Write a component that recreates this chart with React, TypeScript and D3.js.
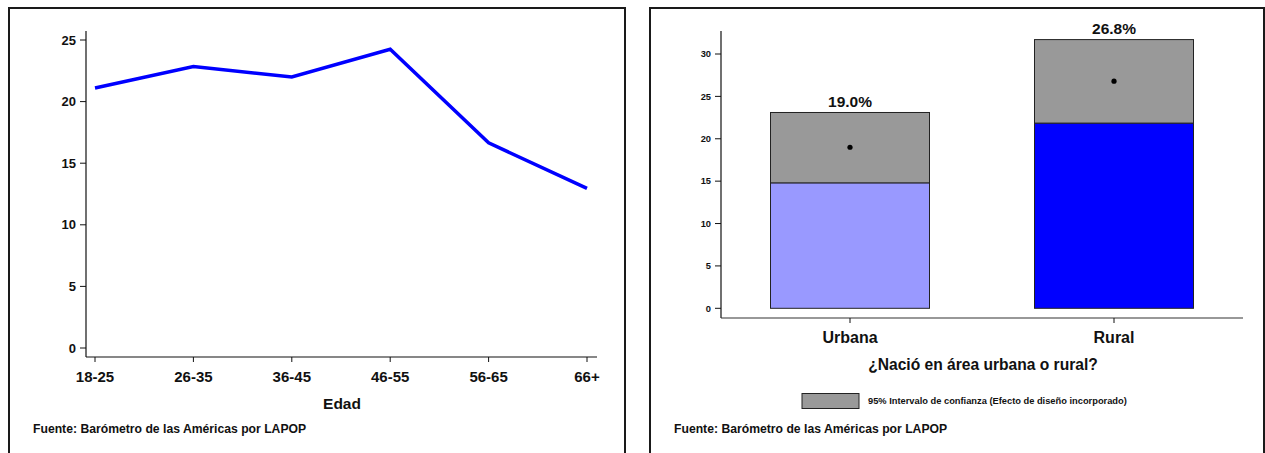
import React from "react";
import * as d3 from "d3";

const ageGroups = ["18-25", "26-35", "36-45", "46-55", "56-65", "66+"];
const ageValues = [21.1, 22.85, 22.0, 24.25, 16.65, 12.95];
const leftYTicks = [0, 5, 10, 15, 20, 25];

const areaCategories = ["Urbana", "Rural"];
const areaMeans = [19.0, 26.8];
const areaLower = [14.8, 21.85];
const areaUpper = [23.1, 31.7];
const areaColors = ["#9999ff", "#0000ff"];
const rightYTicks = [0, 5, 10, 15, 20, 25, 30];

const FONT = "'Liberation Sans', Arial, sans-serif";

export default function App() {
  // Left chart scales
  const lx = d3.scalePoint<string>().domain(ageGroups).range([95, 587]);
  const ly = d3.scaleLinear().domain([0, 25]).range([348, 40]);
  const line = d3
    .line<number>()
    .x((_, i) => lx(ageGroups[i]) as number)
    .y((d) => ly(d));

  // Right chart scales
  const rx = d3.scaleBand<string>().domain(areaCategories).range([718, 1246]).paddingInner(0.66).paddingOuter(0.33);
  const ry = d3.scaleLinear().domain([0, 30]).range([308.3, 54]);
  const bw = 159;

  return (
    <svg
      width={1265}
      height={453}
      style={{ position: "absolute", left: 0, top: 0, display: "block", background: "#fff" }}
      fontFamily={FONT}
      fontWeight="bold"
    >
      <rect x={0} y={0} width={1265} height={453} fill="#fff" />
      {/* Panel borders */}
      <rect x={9} y={8} width={616} height={460} fill="none" stroke="#1a1a1a" strokeWidth={2} />
      <rect x={650} y={8} width={614} height={460} fill="none" stroke="#1a1a1a" strokeWidth={2} />

      {/* LEFT CHART */}
      <line x1={86} x2={86} y1={31} y2={357} stroke="#111" strokeWidth={1.2} />
      <line x1={86} x2={597} y1={357} y2={357} stroke="#111" strokeWidth={1.2} />
      {leftYTicks.map((t) => (
        <g key={"ly" + t}>
          <line x1={80} x2={86} y1={ly(t)} y2={ly(t)} stroke="#111" strokeWidth={1} />
          <text x={76} y={ly(t)} dy="0.35em" textAnchor="end" fontSize={13} fill="#111">
            {t}
          </text>
        </g>
      ))}
      {ageGroups.map((g) => (
        <g key={"lx" + g}>
          <line x1={lx(g)} x2={lx(g)} y1={357} y2={362} stroke="#111" strokeWidth={1} />
          <text x={lx(g)} y={377} dy="0.35em" textAnchor="middle" fontSize={15} fill="#111">
            {g}
          </text>
        </g>
      ))}
      <path d={line(ageValues) || ""} fill="none" stroke="#0000ff" strokeWidth={3.5} strokeLinejoin="miter" />
      <text x={342} y={404} dy="0.35em" textAnchor="middle" fontSize={15.5} fill="#111">
        Edad
      </text>
      <text x={33} y={429} dy="0.35em" textAnchor="start" fontSize={12.2} fill="#111">
        Fuente: Barómetro de las Américas por LAPOP
      </text>

      {/* RIGHT CHART */}
      <line x1={721} x2={721} y1={31} y2={318} stroke="#111" strokeWidth={1.2} />
      <line x1={721} x2={1243} y1={318} y2={318} stroke="#333" strokeWidth={1.2} />
      {rightYTicks.map((t) => (
        <g key={"ry" + t}>
          <line x1={715} x2={721} y1={ry(t)} y2={ry(t)} stroke="#111" strokeWidth={1} />
          <text x={711} y={ry(t)} dy="0.35em" textAnchor="end" fontSize={9.3} fill="#111">
            {t}
          </text>
        </g>
      ))}
      {areaCategories.map((c, i) => {
        const cx = (rx(c) as number) + rx.bandwidth() / 2;
        const x0 = cx - bw / 2;
        return (
          <g key={"bar" + c}>
            <rect
              x={x0}
              y={ry(areaLower[i])}
              width={bw}
              height={ry(0) - ry(areaLower[i])}
              fill={areaColors[i]}
              stroke="#222"
              strokeWidth={1}
            />
            <rect
              x={x0}
              y={ry(areaUpper[i])}
              width={bw}
              height={ry(areaLower[i]) - ry(areaUpper[i])}
              fill="#999999"
              stroke="#222"
              strokeWidth={1}
            />
            <circle cx={cx} cy={ry(areaMeans[i])} r={2.6} fill="#000" />
            <text x={cx} y={ry(areaUpper[i]) - 11} dy="0.35em" textAnchor="middle" fontSize={15.5} fill="#111">
              {areaMeans[i].toFixed(1) + "%"}
            </text>
            <line x1={cx} x2={cx} y1={318} y2={323} stroke="#111" strokeWidth={1} />
            <text x={cx} y={337} dy="0.35em" textAnchor="middle" fontSize={16} fill="#111">
              {c}
            </text>
          </g>
        );
      })}
      <text x={983} y={365} dy="0.35em" textAnchor="middle" fontSize={15.6} fill="#111">
        ¿Nació en área urbana o rural?
      </text>
      <rect x={802} y={393.5} width={57} height={15} fill="#999999" stroke="#222" strokeWidth={1} />
      <text x={868} y={401} dy="0.35em" textAnchor="start" fontSize={9.3} fill="#111">
        95% Intervalo de confianza (Efecto de diseño incorporado)
      </text>
      <text x={674} y={429} dy="0.35em" textAnchor="start" fontSize={12.2} fill="#111">
        Fuente: Barómetro de las Américas por LAPOP
      </text>
    </svg>
  );
}
